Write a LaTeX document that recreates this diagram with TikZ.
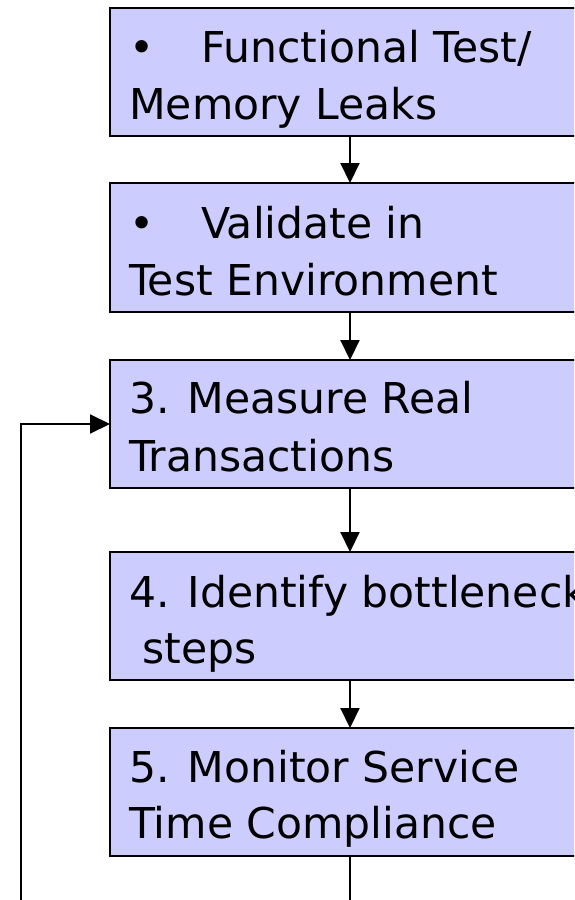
\documentclass[tikz,border=0pt]{standalone}
\usepackage{fontspec}
\setmainfont{DejaVu Sans}
\usetikzlibrary{arrows.meta}
\definecolor{boxfill}{HTML}{CCCCFF}
\tikzset{
  stepbox/.style={draw=black, line width=2pt, fill=boxfill, rectangle,
    minimum width=480pt, inner sep=0pt, outer sep=0pt, anchor=north west},
  steptext/.style={anchor=base west, inner sep=0pt, font=\fontsize{42.5}{57}\selectfont},
  flow/.style={draw=black, line width=2pt, -{Triangle[length=20pt,width=19pt]}},
}
\newcommand{\bulletitem}[1]{\makebox[72pt][l]{•}#1}
\begin{document}
\begin{tikzpicture}[x=1pt,y=-1pt]
  \useasboundingbox (0,0) rectangle (574,900);
  \clip (0,0) rectangle (574,900);

  % process steps
  \node[stepbox, minimum height=128pt] (b1) at (110,8) {};
  \node[stepbox, minimum height=129pt] (b2) at (110,183) {};
  \node[stepbox, minimum height=128pt] (b3) at (110,360) {};
  \node[stepbox, minimum height=128pt] (b4) at (110,552) {};
  \node[stepbox, minimum height=128pt] (b5) at (110,728) {};

  % step labels
  \node[steptext] (t1a) at (129,62)  {\bulletitem{Functional Test/}};
  \node[steptext] (t1b) at (129,119) {Memory Leaks};
  \node[steptext] (t2a) at (129,238) {\bulletitem{Validate in}};
  \node[steptext] (t2b) at (129,295) {Test Environment};
  \node[steptext] (t3a) at (129,413) {3. Measure Real};
  \node[steptext] (t3b) at (129,471) {Transactions};
  \node[steptext] (t4a) at (129,607) {4. Identify bottleneck};
  \node[steptext] (t4b) at (129,663) {\ steps};
  \node[steptext] (t5a) at (129,782) {5. Monitor Service};
  \node[steptext] (t5b) at (129,838) {Time Compliance};

  % flow between steps
  \draw[flow] (b1.south) -- (b2.north);
  \draw[flow] (b2.south) -- (b3.north);
  \draw[flow] (b3.south) -- (b4.north);
  \draw[flow] (b4.south) -- (b5.north);

  % feedback loop back to step 3
  \coordinate (loopb) at (21,910);
  \draw[flow] (b5.south) -- (b5.south |- loopb) -- (loopb) |- (b3.west);
\end{tikzpicture}
\end{document}
